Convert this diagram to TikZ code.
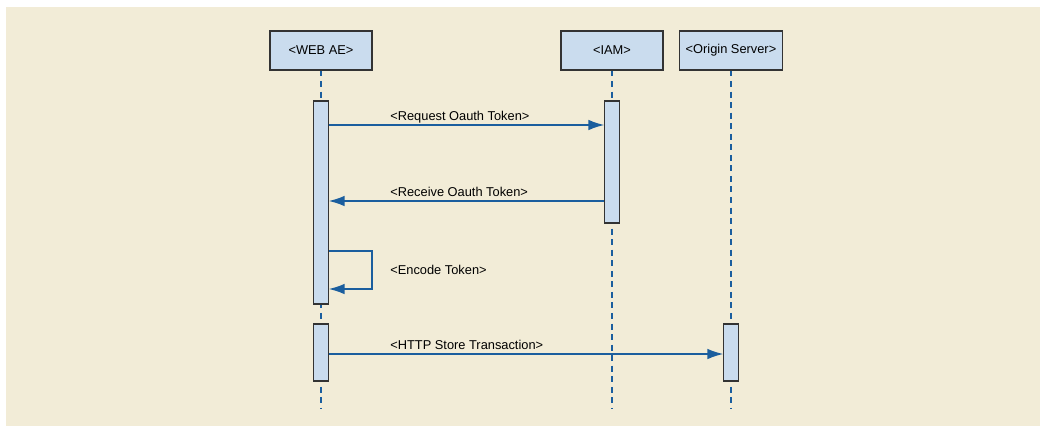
\documentclass[tikz,border=0pt]{standalone}
\usepackage{fontspec}
\setmainfont{Liberation Sans}
\usepackage{tikz}
\usetikzlibrary{positioning}
\usetikzlibrary{arrows.meta}

\definecolor{bgbeige}{HTML}{F2ECD7}
\definecolor{boxblue}{HTML}{CADCEE}
\definecolor{msgblue}{HTML}{1B5E9E}
\definecolor{edgegray}{HTML}{333333}

\tikzset{
  actor/.style={draw=edgegray, line width=0.6pt, fill=boxblue, minimum width=2.04cm, minimum height=0.78cm, font=\fontsize{7.3}{9}\selectfont},
  actbar/.style={draw=edgegray, line width=0.6pt, fill=boxblue, minimum width=0.29cm, inner sep=0},
  life/.style={draw=msgblue, line width=0.8pt, dash pattern=on 3.4pt off 2.6pt},
  msg/.style={draw=msgblue, line width=0.8pt, -{Latex[length=9pt,width=6pt]}},
  msglabel/.style={anchor=base west, inner sep=0, font=\fontsize{7.3}{9}\selectfont}
}

\begin{document}
\begin{tikzpicture}[x=0.02cm, y=-0.02cm]
                \useasboundingbox (0,0) rectangle (1040,426);
                \fill[bgbeige] (6,7) rectangle (1040,426);
                % actors
                \node[actor] (web) at (321,50.5){<WEB AE>};
                \node[actor] (iam) at (612,50.5){<IAM>};
                \node[actor] (origin) at (731,50.5){<Origin Server>};
                % lifelines
                \draw[life] (web.south) -- (web.south |- 0,408);
                \draw[life] (iam.south) -- (iam.south |- 0,408);
                \draw[life] (origin.south) -- (origin.south |- 0,408);
                % activations
                \node[actbar, minimum height=4.06cm] (webA) at (321,202.5){};
                \node[actbar, minimum height=1.14cm] (webB) at (321,352.5){};
                \node[actbar, minimum height=2.44cm] (iamA) at (612,162){};
                \node[actbar, minimum height=1.14cm] (originA) at (731,352.5){};
                % messages
                \draw[msg] (webA.east |- 0,125) -- (iamA.west |- 0,125);
                \node[msglabel] (req) at (390,120){<Request Oauth Token>};
                \draw[msg] (iamA.west |- 0,201) -- (webA.east |- 0,201);
                \node[msglabel] (rec) at (390,196){<Receive Oauth Token>};
                \draw[msg] (webA.east |- 0,251) -| (372,289) -- (webA.east |- 0,289);
                \node[msglabel] (enc) at (390,274){<Encode Token>};
                \draw[msg] (webB.east |- 0,354) -- (originA.west |- 0,354);
                \node[msglabel] (http) at (390,349){<HTTP Store Transaction>};
              \end{tikzpicture}
\end{document}
